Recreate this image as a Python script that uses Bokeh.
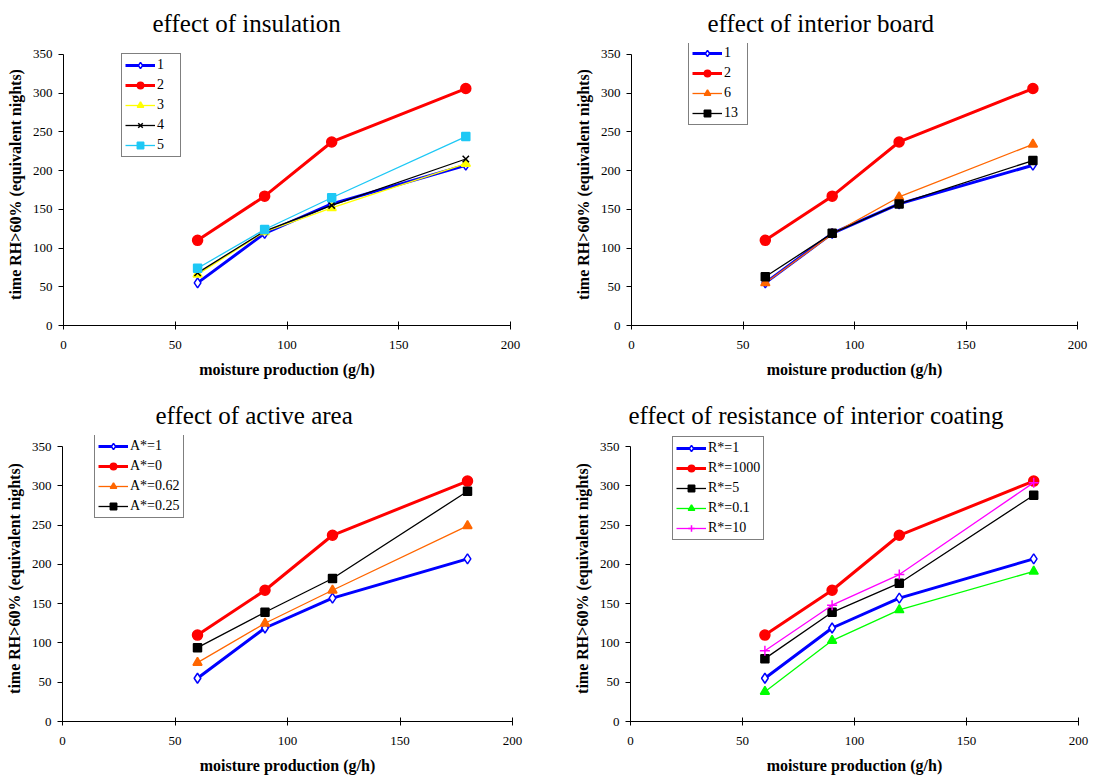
from bokeh.plotting import figure
from bokeh.layouts import column, row
from bokeh.models import Range1d, FixedTicker, Legend, LegendItem
from bokeh.embed import file_html
from bokeh.resources import INLINE

# ---------------- data ----------------
moisture = [60, 90, 120, 180]

# effect of insulation
ins_1 = [55, 119, 157, 207]
ins_2 = [110, 167, 237, 306]
ins_3 = [66, 121, 152, 209]
ins_4 = [68, 122, 155, 215]
ins_5 = [74, 124, 165, 244]

# effect of interior board
board_1 = [55, 119, 157, 207]
board_2 = [110, 167, 237, 306]
board_6 = [55, 118, 166, 234]
board_13 = [63, 119, 157, 213]

# effect of active area
area_1 = [55, 119, 157, 207]
area_0 = [110, 167, 237, 306]
area_062 = [75, 125, 167, 249]
area_025 = [94, 139, 182, 293]

# effect of resistance of interior coating
res_1 = [55, 119, 157, 207]
res_1000 = [110, 167, 237, 306]
res_5 = [80, 139, 176, 288]
res_01 = [38, 103, 142, 191]
res_10 = [90, 148, 187, 304]

x_ticks = [0, 50, 100, 150, 200]
y_ticks = [0, 50, 100, 150, 200, 250, 300, 350]

FONT = "Liberation Serif"

STY = {
    "blue": dict(color="#0000FF", lw=3, marker="diamond", size=10, fill="white"),
    "red": dict(color="#FF0000", lw=3, marker="circle", size=10, fill="#FF0000"),
    "yellow": dict(color="#FFFF00", lw=1.3, marker="triangle", size=9, fill="#FFFF00"),
    "blackx": dict(color="#000000", lw=1.3, marker="x", size=9, fill="#000000"),
    "cyan": dict(color="#1EC8F5", lw=1.3, marker="square", size=8, fill="#1EC8F5"),
    "orange": dict(color="#FF6600", lw=1.3, marker="triangle", size=9, fill="#FF6600"),
    "blacksq": dict(color="#000000", lw=1.3, marker="square", size=8, fill="#000000"),
    "green": dict(color="#00FF00", lw=1.3, marker="triangle", size=9, fill="#00FF00"),
    "magenta": dict(color="#FF00FF", lw=1.3, marker="cross", size=10, fill="#FF00FF"),
}


def make_panel(title, series, width, height, bl, br, frame_top, frame_bottom, y350_px,
               title_offset, title_standoff, leg_loc):
    frame_h = frame_bottom - frame_top
    y_end = 350.0 * frame_h / (frame_bottom - y350_px)
    p = figure(width=width, height=height, output_backend="svg", toolbar_location=None,
               x_range=Range1d(0, 200), y_range=Range1d(0, y_end),
               min_border_left=bl, min_border_right=br,
               min_border_top=frame_top, min_border_bottom=height - frame_bottom)
    p.title.text = title
    p.title.text_font = FONT
    p.title.text_font_size = "25px"
    p.title.text_font_style = "normal"
    p.title.text_color = "black"
    p.title.align = "left"
    p.title.offset = title_offset
    p.title.standoff = title_standoff
    p.outline_line_color = None
    p.xgrid.visible = False
    p.ygrid.visible = False
    p.background_fill_color = "white"
    p.border_fill_color = "white"

    p.xaxis.ticker = FixedTicker(ticks=x_ticks)
    p.yaxis.ticker = FixedTicker(ticks=y_ticks)
    p.yaxis.bounds = (0, 350)
    for axs in (p.xaxis, p.yaxis):
        axs.minor_tick_line_color = None
        axs.axis_line_color = "black"
        axs.major_tick_line_color = "black"
        axs.major_label_text_font = FONT
        axs.major_label_text_font_size = "13px"
        axs.major_label_text_color = "black"
        axs.axis_label_text_font = FONT
        axs.axis_label_text_font_size = "16px"
        axs.axis_label_text_font_style = "bold"
        axs.axis_label_text_color = "black"
    p.xaxis.axis_label = "moisture production (g/h)"
    p.yaxis.axis_label = "time RH>60% (equivalent nights)"
    p.xaxis.major_tick_in = 4
    p.xaxis.major_tick_out = 4
    p.xaxis.major_label_standoff = 11
    p.xaxis.axis_label_standoff = 9
    p.yaxis.major_tick_in = 0
    p.yaxis.major_tick_out = 5
    p.yaxis.major_label_standoff = 6
    p.yaxis.axis_label_standoff = 6

    items = []
    for label, vals, key in series:
        s = STY[key]
        r1 = p.line(moisture, vals, line_color=s["color"], line_width=s["lw"])
        r2 = p.scatter(moisture, vals, marker=s["marker"], size=s["size"],
                       line_color=s["color"], fill_color=s["fill"], line_width=1.5)
        items.append(LegendItem(label=label, renderers=[r1, r2]))
    leg = Legend(items=items, location=leg_loc)
    leg.border_line_color = "black"
    leg.border_line_width = 1
    leg.background_fill_color = "white"
    leg.background_fill_alpha = 1
    leg.label_text_font = FONT
    leg.label_text_font_size = "14px"
    leg.label_text_color = "black"
    leg.glyph_width = 30
    leg.glyph_height = 16
    leg.label_height = 16
    leg.label_standoff = 2
    leg.spacing = 4
    leg.padding = 3
    leg.margin = 0
    p.add_layout(leg, "center")
    return p


p1 = make_panel("effect of insulation",
                [("1", ins_1, "blue"), ("2", ins_2, "red"), ("3", ins_3, "yellow"),
                 ("4", ins_4, "blackx"), ("5", ins_5, "cyan")],
                566, 392, 63, 56, 42, 325, 53, 89, 14, (58, 168))
p2 = make_panel("effect of interior board",
                [("1", board_1, "blue"), ("2", board_2, "red"), ("6", board_6, "orange"),
                 ("13", board_13, "blacksq")],
                534, 392, 65, 23, 42, 325, 53, 76, 14, (57, 200))
p3 = make_panel("effect of active area",
                [("A*=1", area_1, "blue"), ("A*=0", area_0, "red"), ("A*=0.62", area_062, "orange"),
                 ("A*=0.25", area_025, "blacksq")],
                566, 386, 62, 54, 43, 329, 54, 93, 14, (32, 203))
p4 = make_panel("effect of resistance of interior coating",
                [("R*=1", res_1, "blue"), ("R*=1000", res_1000, "red"), ("R*=5", res_5, "blacksq"),
                 ("R*=0.1", res_01, "green"), ("R*=10", res_10, "magenta")],
                534, 386, 64, 22, 43, 329, 54, -2, 14, (42, 181))

layout = column(row(p1, p2), row(p3, p4))
open("out.html", "w").write(file_html(layout, INLINE))
